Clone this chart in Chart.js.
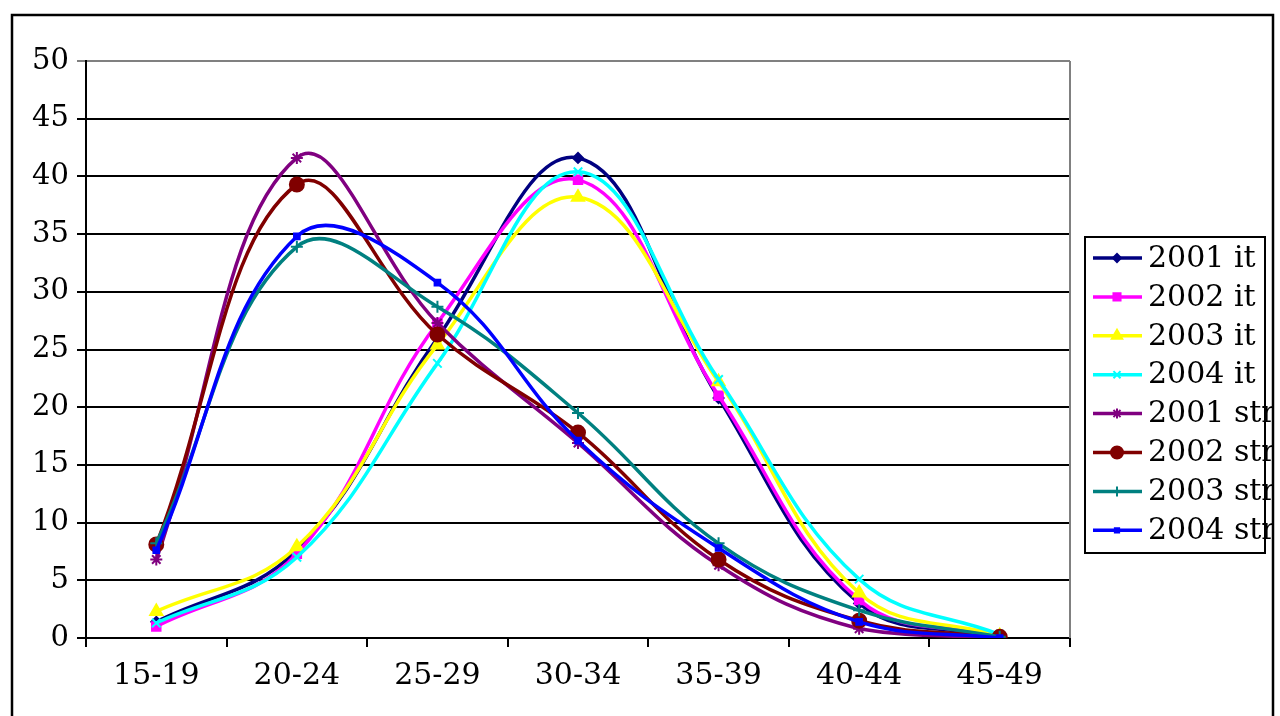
<!DOCTYPE html>
<html>
<head>
<meta charset="utf-8">
<script src="https://cdn.jsdelivr.net/npm/chart.js@4/dist/chart.umd.min.js"></script>
<style>
  html, body { margin: 0; padding: 0; background: #fff; }
  #wrap { width: 1280px; height: 716px; position: relative; }
</style>
</head>
<body>
<div id="wrap"><canvas id="births"></canvas></div>
<script>
// age classes and series
const ageGroups = ['15-19', '20-24', '25-29', '30-34', '35-39', '40-44', '45-49'];
const seriesLabels = ['2001 it', '2002 it', '2003 it', '2004 it', '2001 str', '2002 str', '2003 str', '2004 str'];
const it2001 = [1.4, 7.6, 26.0, 41.6, 20.8, 3.0, 0.1];
const it2002 = [1.0, 7.3, 27.3, 39.7, 21.0, 3.3, 0.1];
const it2003 = [2.3, 7.9, 25.4, 38.2, 22.2, 3.9, 0.2];
const it2004 = [1.3, 7.0, 23.8, 40.4, 22.4, 5.1, 0.3];
const str2001 = [6.8, 41.6, 27.3, 16.9, 6.3, 0.8, 0.0];
const str2002 = [8.1, 39.3, 26.3, 17.8, 6.8, 1.5, 0.1];
const str2003 = [8.2, 33.9, 28.7, 19.5, 8.2, 2.4, 0.1];
const str2004 = [7.6, 34.8, 30.8, 17.1, 7.8, 1.4, 0.0];

const FONT = '"DejaVu Serif", serif';

const styles = [
    { color: '#000080', point: 'rectRot', r: 5 },
    { color: '#FF00FF', point: 'rect', r: 6 },
    { color: '#FFFF00', point: 'triangle', r: 7 },
    { color: '#00FFFF', point: 'crossRot', r: 6 },
    { color: '#800080', point: 'star', r: 6 },
    { color: '#800000', point: 'circle', r: 7 },
    { color: '#008080', point: 'cross', r: 6 },
    { color: '#0000FF', point: 'rect', r: 4 }
];
const allSeries = [it2001, it2002, it2003, it2004, str2001, str2002, str2003, str2004];

const datasets = allSeries.map((vals, i) => ({
    label: seriesLabels[i],
    data: vals,
    borderColor: styles[i].color,
    backgroundColor: styles[i].color,
    borderWidth: 3.5,
    pointStyle: styles[i].point,
    pointRadius: styles[i].r,
    pointBorderWidth: 2,
    pointHoverRadius: styles[i].r,
    tension: 0.4,
    fill: false,
    order: 8 - i
}));

// frame, right plot border and the boxed legend (clipped like the original)
const framePlugin = {
    id: 'frame',
    afterDraw(chart) {
        const ctx = chart.ctx;
        const a = chart.chartArea;
        ctx.save();
        ctx.strokeStyle = '#808080';
        ctx.lineWidth = 2;
        ctx.beginPath();
        ctx.moveTo(a.right, a.top);
        ctx.lineTo(a.right, a.bottom);
        ctx.stroke();

        ctx.strokeStyle = '#000';
        ctx.lineWidth = 2.5;
        ctx.beginPath();
        ctx.moveTo(12, 730);
        ctx.lineTo(12, 15);
        ctx.lineTo(1273, 15);
        ctx.lineTo(1273, 730);
        ctx.stroke();

        // legend
        ctx.beginPath();
        ctx.rect(0, 0, 1272, 716);
        ctx.clip();
        ctx.lineWidth = 2;
        ctx.strokeStyle = '#000';
        ctx.strokeRect(1085, 237, 180, 316);
        ctx.font = '30px ' + FONT;
        ctx.textBaseline = 'middle';
        ctx.textAlign = 'left';
        chart.data.datasets.forEach((ds, i) => {
            const y = 258 + i * 38.9;
            ctx.strokeStyle = ds.borderColor;
            ctx.lineWidth = 3.5;
            ctx.beginPath();
            ctx.moveTo(1093, y);
            ctx.lineTo(1142, y);
            ctx.stroke();
            ctx.fillStyle = ds.backgroundColor;
            ctx.lineWidth = 2;
            Chart.helpers.drawPoint(ctx, {
                pointStyle: ds.pointStyle,
                radius: Math.max(ds.pointRadius - 1, 3),
                borderWidth: 2,
                rotation: 0
            }, 1117, y);
            ctx.fillStyle = '#000';
            ctx.fillText(ds.label, 1148, y + 1);
        });
        ctx.restore();
    }
};

new Chart(document.getElementById('births'), {
    type: 'line',
    data: { labels: ageGroups, datasets: datasets },
    options: {
        responsive: true,
        maintainAspectRatio: false,
        animation: false,
        layout: { padding: { left: 0, top: 61, right: 210, bottom: 0 } },
        plugins: {
            legend: { display: false },
            tooltip: { enabled: false }
        },
        scales: {
            x: {
                offset: true,
                afterFit: (axis) => { axis.height = 78; },
                grid: {
                    offset: true,
                    drawOnChartArea: false,
                    drawTicks: true,
                    tickLength: 9,
                    color: '#000',
                    lineWidth: 2
                },
                border: { color: '#000', width: 2 },
                ticks: {
                    color: '#000',
                    font: { family: FONT, size: 30 },
                    padding: 11,
                    maxRotation: 0
                }
            },
            y: {
                min: 0,
                max: 50,
                afterFit: (axis) => { axis.width = 86; },
                grid: {
                    color: (c) => (c.tick && c.tick.value === 50 ? '#808080' : '#000'),
                    lineWidth: 2,
                    tickLength: 9
                },
                border: { color: '#000', width: 2 },
                ticks: {
                    stepSize: 5,
                    color: '#000',
                    font: { family: FONT, size: 29 },
                    padding: 8
                }
            }
        }
    },
    plugins: [framePlugin]
});
</script>
</body>
</html>
